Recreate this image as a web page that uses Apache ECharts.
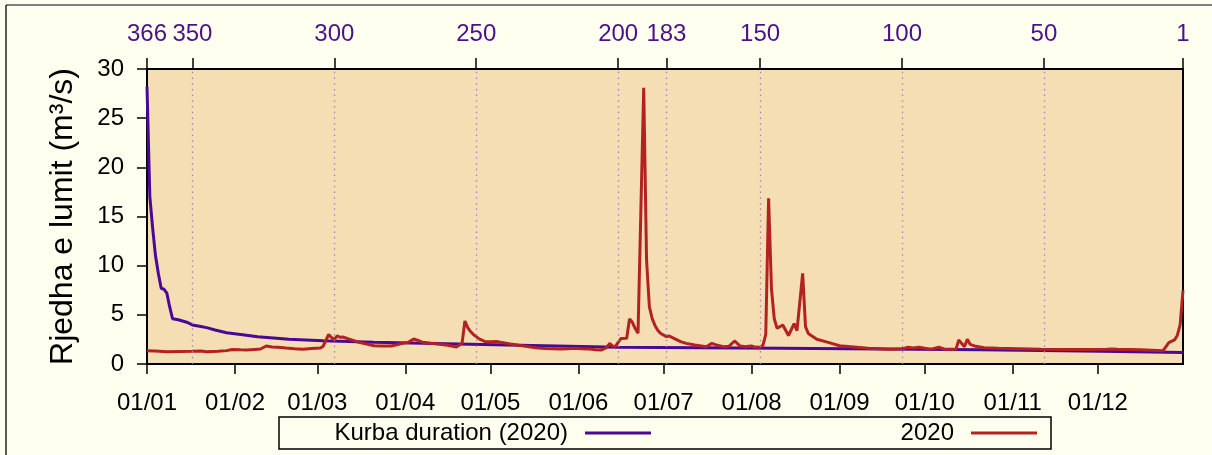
<!DOCTYPE html>
<html>
<head>
<meta charset="utf-8">
<script src="https://cdn.jsdelivr.net/npm/echarts@6/dist/echarts.min.js"></script>
<style>
  html, body { margin: 0; padding: 0; background: #fffff0; }
  #chart { width: 1212px; height: 455px; }
</style>
</head>
<body>
<div id="chart"></div>
<script>
// Month-start labels on the date axis (dd/mm)
const monthTickLabels = ['01/01', '01/02', '01/03', '01/04', '01/05', '01/06',
                         '01/07', '01/08', '01/09', '01/10', '01/11', '01/12'];

// Duration-curve rank labels on the top axis, and where dotted guides are drawn
const rankTickLabels = [366, 350, 300, 250, 200, 183, 150, 100, 50, 1];
const rankGuides = [350, 300, 250, 200, 183, 150, 100, 50];

// Daily river discharge 2020 (m³/s)
const flowDates = [
  '01-01', '01-04', '01-08', '01-13', '01-17', '01-20', '01-22', '01-26', '01-29', '01-31',
  '02-03', '02-05', '02-08', '02-10', '02-12', '02-14', '02-16', '02-19', '02-22', '02-25', '02-28',
  '03-02', '03-03', '03-05', '03-06', '03-07', '03-08', '03-09', '03-10', '03-12', '03-15', '03-18',
  '03-21', '03-24', '03-27', '03-29', '03-31',
  '04-02', '04-04', '04-05', '04-07', '04-10', '04-13', '04-16', '04-19', '04-21', '04-22', '04-23',
  '04-24', '04-25', '04-26', '04-27', '04-29',
  '05-01', '05-03', '05-05', '05-08', '05-11', '05-14', '05-17', '05-20', '05-23', '05-26', '05-28', '05-31',
  '06-02', '06-05', '06-07', '06-09', '06-11', '06-12', '06-13', '06-14', '06-15', '06-16', '06-18',
  '06-19', '06-20', '06-21', '06-22', '06-24', '06-25', '06-26', '06-27', '06-28', '06-29', '06-30',
  '07-02', '07-03', '07-05', '07-07', '07-09', '07-12', '07-16', '07-18', '07-20', '07-22', '07-24',
  '07-26', '07-28', '07-30', '07-31',
  '08-01', '08-02', '08-04', '08-05', '08-06', '08-07', '08-08', '08-09', '08-10', '08-12', '08-14',
  '08-16', '08-17', '08-19', '08-20', '08-21', '08-22', '08-24', '08-28',
  '09-01', '09-05', '09-11', '09-19', '09-23', '09-24', '09-25', '09-27', '09-29',
  '10-01', '10-03', '10-06', '10-08', '10-12', '10-13', '10-15', '10-16', '10-17', '10-19', '10-22', '10-27',
  '11-03', '11-11', '11-20', '11-28',
  '12-04', '12-06', '12-08', '12-16', '12-24', '12-26', '12-28', '12-29', '12-30', '12-31'
];
const flow2020 = [
  1.35, 1.32, 1.25, 1.28, 1.30, 1.32, 1.25, 1.30, 1.36, 1.48,
  1.44, 1.42, 1.48, 1.52, 1.83, 1.72, 1.70, 1.62, 1.55, 1.49, 1.58,
  1.62, 1.78, 3.00, 2.70, 2.52, 2.85, 2.72, 2.75, 2.55, 2.27, 2.05,
  1.86, 1.82, 1.83, 1.95, 2.10,
  2.20, 2.54, 2.45, 2.22, 2.10, 2.00, 1.90, 1.72, 2.10, 4.37, 3.70,
  3.30, 3.00, 2.78, 2.55, 2.30,
  2.27, 2.30, 2.20, 2.03, 1.90, 1.78, 1.65, 1.58, 1.55, 1.52, 1.55, 1.60,
  1.55, 1.53, 1.46, 1.42, 1.70, 2.10, 1.85, 1.76, 2.20, 2.60, 2.62,
  4.58, 4.24, 3.60, 3.12, 28.1, 10.6, 5.80, 4.60, 3.90, 3.40, 3.10,
  2.78, 2.85, 2.55, 2.27, 2.10, 1.93, 1.76, 2.10, 1.90, 1.76, 1.80,
  2.34, 1.83, 1.75, 1.80,
  1.83, 1.72, 1.70, 1.90, 3.00, 16.85, 7.70, 4.60, 3.63, 3.97, 2.90,
  4.10, 3.40, 9.22, 3.80, 3.10, 2.90, 2.51, 2.20,
  1.86, 1.76, 1.60, 1.49, 1.55, 1.60, 1.70, 1.62, 1.70,
  1.60, 1.49, 1.70, 1.50, 1.49, 2.44, 1.76, 2.51, 2.00, 1.80, 1.66, 1.60,
  1.55, 1.49, 1.47, 1.47,
  1.50, 1.53, 1.49, 1.45, 1.35, 2.17, 2.45, 2.90, 4.00, 7.50
];

// Flow-duration curve for 2020: rank (366 = largest) and discharge (m³/s)
const durationRanks = [366, 365, 364, 363, 362, 361, 360, 359, 358, 357, 355, 352, 350, 347, 345,
                       342, 338, 333, 327, 316, 304, 286, 269, 252, 200, 143, 72, 30, 1];
const durationValues = [28.2, 17.0, 13.8, 11.0, 9.2, 7.7, 7.6, 7.2, 5.8, 4.6, 4.5, 4.25, 3.97, 3.82, 3.7,
                        3.46, 3.18, 3.0, 2.78, 2.51, 2.37, 2.2, 2.1, 2.0, 1.7, 1.6, 1.45, 1.3, 1.18];

const FONT = 'Liberation Sans, Arial, Helvetica, sans-serif';
const DAY_MS = 86400000;
const YEAR_START = Date.UTC(2020, 0, 1);
const PURPLE = '#4b0896';
const RED = '#b22222';

function dayOfYear(mm, dd) {
  return (Date.UTC(2020, mm - 1, dd) - YEAR_START) / DAY_MS;
}

const monthTickDays = monthTickLabels.map(s => {
  const [dd, mm] = s.split('/').map(Number);
  return dayOfYear(mm, dd);
});
const labelByDay = {};
monthTickDays.forEach((d, i) => { labelByDay[d] = monthTickLabels[i]; });

const flowPoints = flowDates.map((s, i) => {
  const [mm, dd] = s.split('-').map(Number);
  return [dayOfYear(mm, dd), flow2020[i]];
});
const durationPoints = durationRanks.map((r, i) => [r, durationValues[i]]);

const chart = echarts.init(document.getElementById('chart'), null, { renderer: 'canvas' });

const legendText = { fontSize: 24, color: '#000', fontFamily: FONT, padding: [0, 12, 0, 0] };
const legendCommon = {
  top: 421, align: 'right', padding: 0,
  icon: 'rect', itemWidth: 66, itemHeight: 3,
  textStyle: legendText
};

chart.setOption({
  backgroundColor: '#fffff0',
  animation: false,
  textStyle: { fontFamily: FONT },
  grid: {
    left: 147, right: 29, top: 69, bottom: 91,
    show: true,
    backgroundColor: '#f5deb3',
    borderColor: '#000',
    borderWidth: 2
  },
  legend: [
    Object.assign({ data: ['Kurba duration (2020)'], right: 561 }, legendCommon),
    Object.assign({ data: ['2020'], right: 175 }, legendCommon)
  ],
  xAxis: [
    {
      type: 'value',
      position: 'bottom',
      min: 0, max: 365,
      axisLine: { show: false },
      splitLine: { show: false },
      axisTick: {
        show: true, inside: false, length: 10,
        customValues: monthTickDays,
        lineStyle: { color: '#000', width: 1.5 }
      },
      axisLabel: {
        customValues: monthTickDays,
        margin: 27,
        fontSize: 24,
        color: '#000',
        formatter: v => labelByDay[v] || ''
      }
    },
    {
      type: 'value',
      position: 'top',
      inverse: true,
      min: 1, max: 366,
      axisLine: { show: false },
      splitLine: { show: false },
      axisTick: {
        show: true, inside: false, length: 11,
        customValues: rankTickLabels,
        lineStyle: { color: '#000', width: 1.5 }
      },
      axisLabel: {
        customValues: rankTickLabels,
        margin: 23,
        fontSize: 24,
        color: '#4a1189',
        formatter: v => String(v)
      }
    }
  ],
  yAxis: {
    type: 'value',
    min: 0, max: 30, interval: 5,
    axisLine: { show: false },
    splitLine: { show: false },
    axisTick: { show: true, inside: false, length: 10, lineStyle: { color: '#000', width: 1.5 } },
    axisLabel: { fontSize: 24, color: '#000', margin: 23 },
    name: 'Rjedha e lumit (m³/s)',
    nameLocation: 'middle',
    nameRotate: 90,
    nameGap: 68,
    nameTextStyle: { fontSize: 32, color: '#000', fontFamily: FONT }
  },
  graphic: [
    // outer frame (top and left edges)
    { type: 'line', z: 0, shape: { x1: 6, y1: 5, x2: 1212, y2: 5 }, style: { stroke: '#555', lineWidth: 1.5 } },
    { type: 'line', z: 0, shape: { x1: 6, y1: 5, x2: 6, y2: 455 }, style: { stroke: '#222', lineWidth: 1.5 } },
    // key box
    { type: 'rect', z: 0, shape: { x: 279, y: 417, width: 772, height: 32 },
      style: { fill: '#fffff0', stroke: '#000', lineWidth: 1.5 } }
  ],
  series: [
    {
      // dotted guides at the labelled ranks
      type: 'line',
      xAxisIndex: 1,
      data: [],
      silent: true,
      z: 1,
      markLine: {
        silent: true,
        symbol: ['none', 'none'],
        label: { show: false },
        lineStyle: { type: [1.5, 4.2], color: '#a282c0', width: 1.3 },
        data: rankGuides.map(r => ({ xAxis: r }))
      }
    },
    {
      name: 'Kurba duration (2020)',
      type: 'line',
      xAxisIndex: 1,
      data: durationPoints,
      showSymbol: false,
      symbol: 'none',
      z: 2,
      lineStyle: { color: PURPLE, width: 3 },
      itemStyle: { color: PURPLE }
    },
    {
      name: '2020',
      type: 'line',
      xAxisIndex: 0,
      data: flowPoints,
      showSymbol: false,
      symbol: 'none',
      z: 3,
      lineStyle: { color: RED, width: 3 },
      itemStyle: { color: RED }
    }
  ]
});
</script>
</body>
</html>
